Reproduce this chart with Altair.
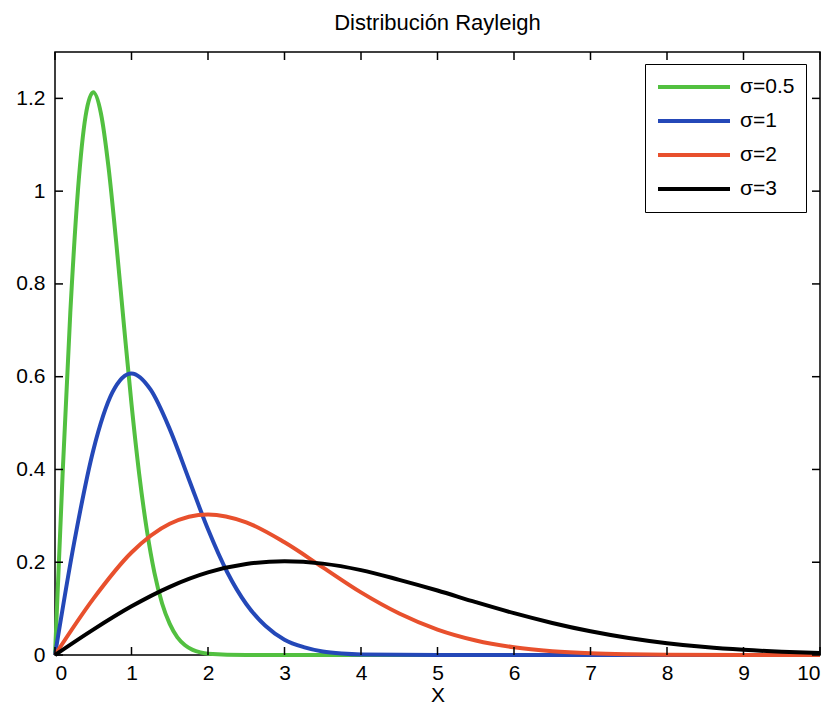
import altair as alt
import pandas as pd

# sigma = 0.5
x_g = [0, 0.1, 0.2, 0.3, 0.4, 0.5, 0.6, 0.7, 0.8, 0.9, 1.0, 1.1, 1.2, 1.3, 1.4, 1.5, 1.6, 1.7, 1.8, 1.9, 2.0, 2.5, 3, 4, 5, 6, 7, 8, 9, 10]
y_g = [0, 0.392, 0.738, 1.002, 1.162, 1.213, 1.168, 1.051, 0.890, 0.713, 0.541, 0.391, 0.270, 0.177, 0.111, 0.067, 0.038, 0.021, 0.011, 0.0056, 0.0027, 0, 0, 0, 0, 0, 0, 0, 0, 0]
# sigma = 1
x_b = [0, 0.25, 0.5, 0.75, 1.0, 1.25, 1.5, 1.75, 2.0, 2.25, 2.5, 2.75, 3.0, 3.25, 3.5, 3.75, 4.0, 5, 6, 7, 8, 9, 10]
y_b = [0, 0.242, 0.441, 0.566, 0.607, 0.572, 0.487, 0.379, 0.271, 0.179, 0.110, 0.063, 0.033, 0.017, 0.0077, 0.0033, 0.0013, 0, 0, 0, 0, 0, 0]
# sigma = 2
x_r = [0, 0.5, 1.0, 1.5, 2.0, 2.5, 3.0, 3.5, 4.0, 4.5, 5.0, 5.5, 6.0, 6.5, 7.0, 7.5, 8.0, 9, 10]
y_r = [0, 0.121, 0.221, 0.283, 0.303, 0.286, 0.243, 0.189, 0.135, 0.0895, 0.0549, 0.0314, 0.0167, 0.0083, 0.0038, 0.0017, 0.0007, 0, 0]
# sigma = 3
x_k = [0, 0.5, 1.0, 1.5, 2.0, 2.5, 3.0, 3.5, 4.0, 4.5, 5.0, 5.5, 6.0, 6.5, 7.0, 7.5, 8.0, 8.5, 9.0, 9.5, 10]
y_k = [0, 0.0548, 0.105, 0.147, 0.178, 0.196, 0.202, 0.197, 0.183, 0.162, 0.139, 0.114, 0.0902, 0.0691, 0.0511, 0.0366, 0.0254, 0.0170, 0.0111, 0.0070, 0.0043]

series_names = ["σ=0.5", "σ=1", "σ=2", "σ=3"]
series_colors = ["#52c040", "#2448b8", "#e8502d", "#000000"]

x_ticks = [0, 1, 2, 3, 4, 5, 6, 7, 8, 9, 10]
y_ticks = [0, 0.2, 0.4, 0.6, 0.8, 1.0, 1.2]

rows = []
for name, xs, ys in zip(series_names, [x_g, x_b, x_r, x_k], [y_g, y_b, y_r, y_k]):
    for i, (a, b) in enumerate(zip(xs, ys)):
        rows.append({"serie": name, "x": a, "y": b, "i": i})
df = pd.DataFrame(rows)

FONT = "Liberation Sans"
FS = 21
W, H = 765, 603
TL = 8
xscale = alt.Scale(domain=[0, 10], nice=False, zero=False)
yscale = alt.Scale(domain=[0, 1.3], nice=False)

lines = alt.Chart(df).mark_line(strokeWidth=4, interpolate="monotone").encode(
    x=alt.X("x:Q", scale=xscale, title="X",
            axis=alt.Axis(values=x_ticks, format="~g", tickSize=0, labelPadding=7,
                          titlePadding=1, grid=False, domain=False)),
    y=alt.Y("y:Q", scale=yscale, title=None,
            axis=alt.Axis(values=y_ticks, format="~g", tickSize=0, labelPadding=10,
                          grid=False, domain=False)),
    color=alt.Color("serie:N", scale=alt.Scale(domain=series_names, range=series_colors),
                    legend=alt.Legend(title=None, orient="none", legendX=590, legendY=12,
                                      symbolType="stroke", symbolStrokeWidth=4, symbolSize=5184,
                                      clipHeight=24,
                                      labelFontSize=FS, labelFont=FONT, labelColor="black",
                                      labelOffset=8,
                                      strokeColor="black", fillColor="white", padding=11,
                                      rowPadding=10)),
    order="i:Q",
)

xb = pd.DataFrame({"xb": x_ticks})
xtp = pd.DataFrame({"xt": x_ticks})
yl = pd.DataFrame({"yl": y_ticks})
yr = pd.DataFrame({"yr": y_ticks})
tick_x_bottom = alt.Chart(xb).mark_rule(color="black", strokeWidth=1.5).encode(
    x=alt.X("xb:Q", scale=xscale), y=alt.value(H - TL), y2=alt.value(H))
tick_x_top = alt.Chart(xtp).mark_rule(color="black", strokeWidth=1.5).encode(
    x=alt.X("xt:Q", scale=xscale), y=alt.value(0), y2=alt.value(TL))
tick_y_left = alt.Chart(yl).mark_rule(color="black", strokeWidth=1.5).encode(
    y=alt.Y("yl:Q", scale=yscale), x=alt.value(0), x2=alt.value(TL))
tick_y_right = alt.Chart(yr).mark_rule(color="black", strokeWidth=1.5).encode(
    y=alt.Y("yr:Q", scale=yscale), x=alt.value(W - TL), x2=alt.value(W))

chart = alt.layer(lines, tick_x_bottom, tick_x_top, tick_y_left, tick_y_right).properties(
    width=W, height=H,
    title=alt.Title("Distribución Rayleigh", font=FONT, fontSize=22, fontWeight="normal",
                    color="black", offset=16),
    autosize=alt.AutoSizeParams(type="none"),
    padding={"left": 47, "top": 44, "right": 6, "bottom": 52},
    background="white",
).configure_view(stroke="black", strokeWidth=1.5).configure_axis(
    labelFont=FONT, labelFontSize=FS, labelColor="black",
    titleFont=FONT, titleFontSize=FS, titleColor="black", titleFontWeight="normal",
)

chart.save("out.html", embed_options={"renderer": "svg", "actions": False})
